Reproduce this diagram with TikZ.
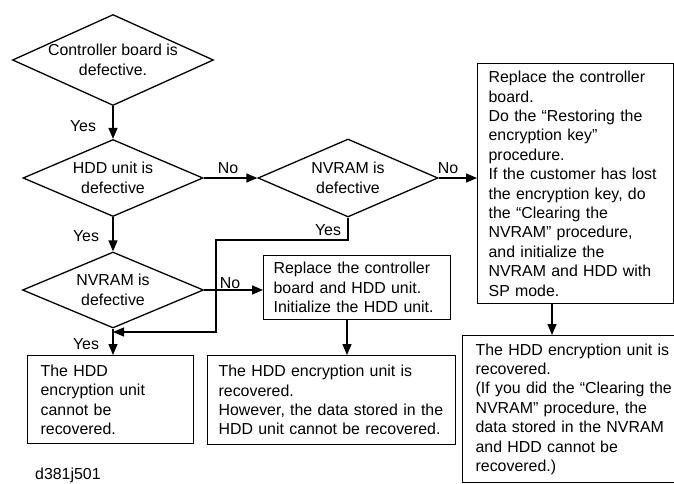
\documentclass[tikz,border=0pt]{standalone}
\usepackage{fontspec}
\setmainfont{Liberation Sans}
\usetikzlibrary{shapes.geometric,arrows.meta}
\begin{document}
\begin{tikzpicture}[x=1pt,y=-1pt,
  every node/.style={font=\fontsize{15.9pt}{19.4pt}\selectfont},
  dia/.style={draw, line width=1.3pt, diamond, align=center, inner sep=-4pt},
  box/.style={draw, line width=1.3pt, rectangle, align=left, anchor=north west, inner ysep=0pt},
  lbl/.style={inner sep=0pt},
  arr/.style={line width=1.3pt, -{Triangle[length=11pt,width=9pt]}}]
\useasboundingbox (0,0) rectangle (674,484);

% decisions
\node[dia, minimum width=201pt, minimum height=91pt, shape aspect=2.2] (d1) at (113,60) {Controller board is\\defective.};
\node[dia, minimum width=180pt, minimum height=77pt, shape aspect=2.3] (d2) at (113,178) {HDD unit is\\defective};
\node[dia, minimum width=181pt, minimum height=76pt, shape aspect=2.3] (d3) at (113,290) {NVRAM is\\defective};
\node[dia, minimum width=180pt, minimum height=78pt, shape aspect=2.3] (d4) at (348,178) {NVRAM is\\defective};

% boxes
\node[box, text width=174pt, inner xsep=11pt, minimum height=240pt] (r1) at (477,63)
  {Replace the controller\\board.\\Do the “Restoring the\\encryption key”\\procedure.\\If the customer has lost\\the encryption key, do\\the “Clearing the\\NVRAM” procedure,\\and initialize the\\NVRAM and HDD with\\SP mode.};
\node[box, text width=167pt, inner xsep=10pt, minimum height=64pt] (m1) at (263,255)
  {Replace the controller\\board and HDD unit.\\Initialize the HDD unit.};
\node[box, text width=140pt, inner xsep=13pt, minimum height=88pt] (b1) at (27,355)
  {The HDD\\encryption unit\\cannot be\\recovered.};
\node[box, text width=226pt, inner xsep=11pt, minimum height=89pt] (b2) at (207,355)
  {The HDD encryption unit is\\recovered.\\However, the data stored in the\\HDD unit cannot be recovered.};
\node[box, text width=204pt, inner xsep=13pt, minimum height=147pt] (b3) at (462,335)
  {The HDD encryption unit is\\recovered.\\(If you did the “Clearing the\\NVRAM” procedure, the\\data stored in the NVRAM\\and HDD cannot be\\recovered.)};

% helper coordinates
\coordinate (ax) at (552,0);
\coordinate (mx) at (347,0);
\coordinate (j1) at (216,240);
\coordinate (j2) at (113,332);

% connectors
\draw[arr] (d1.south) -- (d2.north);
\draw[arr] (d2.south) -- (d3.north);
\draw[arr] (d3.south) -- (b1.north -| d3.south);
\draw[arr] (d2.east) -- (d4.west);
\draw[arr] (d4.east) -- (d4.east -| r1.west);
\draw[arr] (d3.east) -- (d3.east -| m1.west);
\draw[arr] (d4.south) |- (j1) |- (j2);
\draw[arr] (m1.south -| mx) -- (b2.north -| mx);
\draw[arr] (r1.south -| ax) -- (b3.north -| ax);

% labels
\node[lbl] (y1) at (83,126) {Yes};
\node[lbl] (y2) at (86,236) {Yes};
\node[lbl] (y3) at (86,344) {Yes};
\node[lbl] (y4) at (328,230) {Yes};
\node[lbl] (n1) at (228,168) {No};
\node[lbl] (n2) at (448,168) {No};
\node[lbl] (n3) at (230,283) {No};

\node[lbl, anchor=base west] (cap) at (35,479) {d381j501};
\end{tikzpicture}
\end{document}
